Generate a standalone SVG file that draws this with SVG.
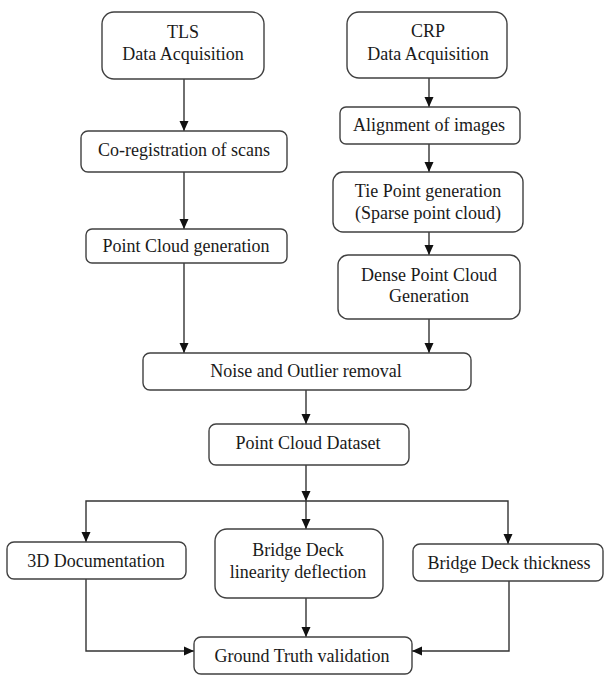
<svg xmlns="http://www.w3.org/2000/svg" width="604" height="679" viewBox="0 0 604 679">
<style>
.box{fill:#fff;stroke:#404040;stroke-width:1.4}
.lbl{font-family:"Liberation Serif","Times New Roman",serif;font-size:18px;fill:#1a1a1a;text-anchor:middle}
.con{fill:none;stroke:#333;stroke-width:1.4}
</style>
<defs>
<marker id="ah" markerUnits="userSpaceOnUse" markerWidth="10" markerHeight="10" viewBox="0 0 10 10" refX="10" refY="5" orient="auto">
<path d="M0,0.5 L10,5 L0,9.5 Z" fill="#111"/>
</marker>
</defs>
<rect width="604" height="679" fill="#fff"/>
<g id="connectors">
<path class="con" d="M184,79 V131" marker-end="url(#ah)"/>
<path class="con" d="M184,172 V229" marker-end="url(#ah)"/>
<path class="con" d="M184,263 V353" marker-end="url(#ah)"/>
<path class="con" d="M429,78 V107" marker-end="url(#ah)"/>
<path class="con" d="M429,144 V172" marker-end="url(#ah)"/>
<path class="con" d="M429,232 V255" marker-end="url(#ah)"/>
<path class="con" d="M429,319 V353" marker-end="url(#ah)"/>
<path class="con" d="M306,390 V424" marker-end="url(#ah)"/>
<path class="con" d="M306,465 V501" marker-end="url(#ah)"/>
<path class="con" d="M306,501 V529" marker-end="url(#ah)"/>
<path class="con" d="M306,501 H86 V542" marker-end="url(#ah)"/>
<path class="con" d="M306,501 H508 V544" marker-end="url(#ah)"/>
<path class="con" d="M306,598 V637" marker-end="url(#ah)"/>
<path class="con" d="M86,579 V651 H194" marker-end="url(#ah)"/>
<path class="con" d="M509,581 V651 H412" marker-end="url(#ah)"/>
</g>
<g id="tls">
<rect class="box" x="102" y="12" width="162" height="67" rx="12"/>
<text class="lbl" x="183" y="38">TLS</text>
<text class="lbl" x="183" y="60">Data Acquisition</text>
</g>
<g id="coreg">
<rect class="box" x="81" y="131" width="206" height="41" rx="7"/>
<text class="lbl" x="184" y="156">Co-registration of scans</text>
</g>
<g id="pcg">
<rect class="box" x="86" y="229" width="201" height="34" rx="6"/>
<text class="lbl" x="186" y="252">Point Cloud generation</text>
</g>
<g id="crp">
<rect class="box" x="347" y="12" width="160" height="66" rx="12"/>
<text class="lbl" x="428" y="37">CRP</text>
<text class="lbl" x="428" y="60">Data Acquisition</text>
</g>
<g id="align">
<rect class="box" x="340" y="107" width="180" height="37" rx="6"/>
<text class="lbl" x="429" y="131">Alignment of images</text>
</g>
<g id="tie">
<rect class="box" x="333" y="172" width="190" height="60" rx="10"/>
<text class="lbl" x="428" y="197">Tie Point generation</text>
<text class="lbl" x="428" y="219">(Sparse point cloud)</text>
</g>
<g id="dense">
<rect class="box" x="338" y="255" width="182" height="64" rx="10"/>
<text class="lbl" x="429" y="281">Dense Point Cloud</text>
<text class="lbl" x="429" y="302">Generation</text>
</g>
<g id="noise">
<rect class="box" x="143" y="353" width="328" height="37" rx="7"/>
<text class="lbl" x="306" y="377">Noise and Outlier removal</text>
</g>
<g id="pcd">
<rect class="box" x="209" y="424" width="200" height="41" rx="7"/>
<text class="lbl" x="308" y="449">Point Cloud Dataset</text>
</g>
<g id="doc3d">
<rect class="box" x="7" y="542" width="179" height="37" rx="7"/>
<text class="lbl" x="96" y="567">3D Documentation</text>
</g>
<g id="bridge">
<rect class="box" x="215" y="529" width="168" height="69" rx="12"/>
<text class="lbl" x="298" y="556">Bridge Deck</text>
<text class="lbl" x="298" y="578">linearity deflection</text>
</g>
<g id="thickness">
<rect class="box" x="413" y="544" width="190" height="37" rx="7"/>
<text class="lbl" x="509" y="569">Bridge Deck thickness</text>
</g>
<g id="ground">
<rect class="box" x="194" y="637" width="218" height="37" rx="7"/>
<text class="lbl" x="302" y="662">Ground Truth validation</text>
</g>
</svg>
